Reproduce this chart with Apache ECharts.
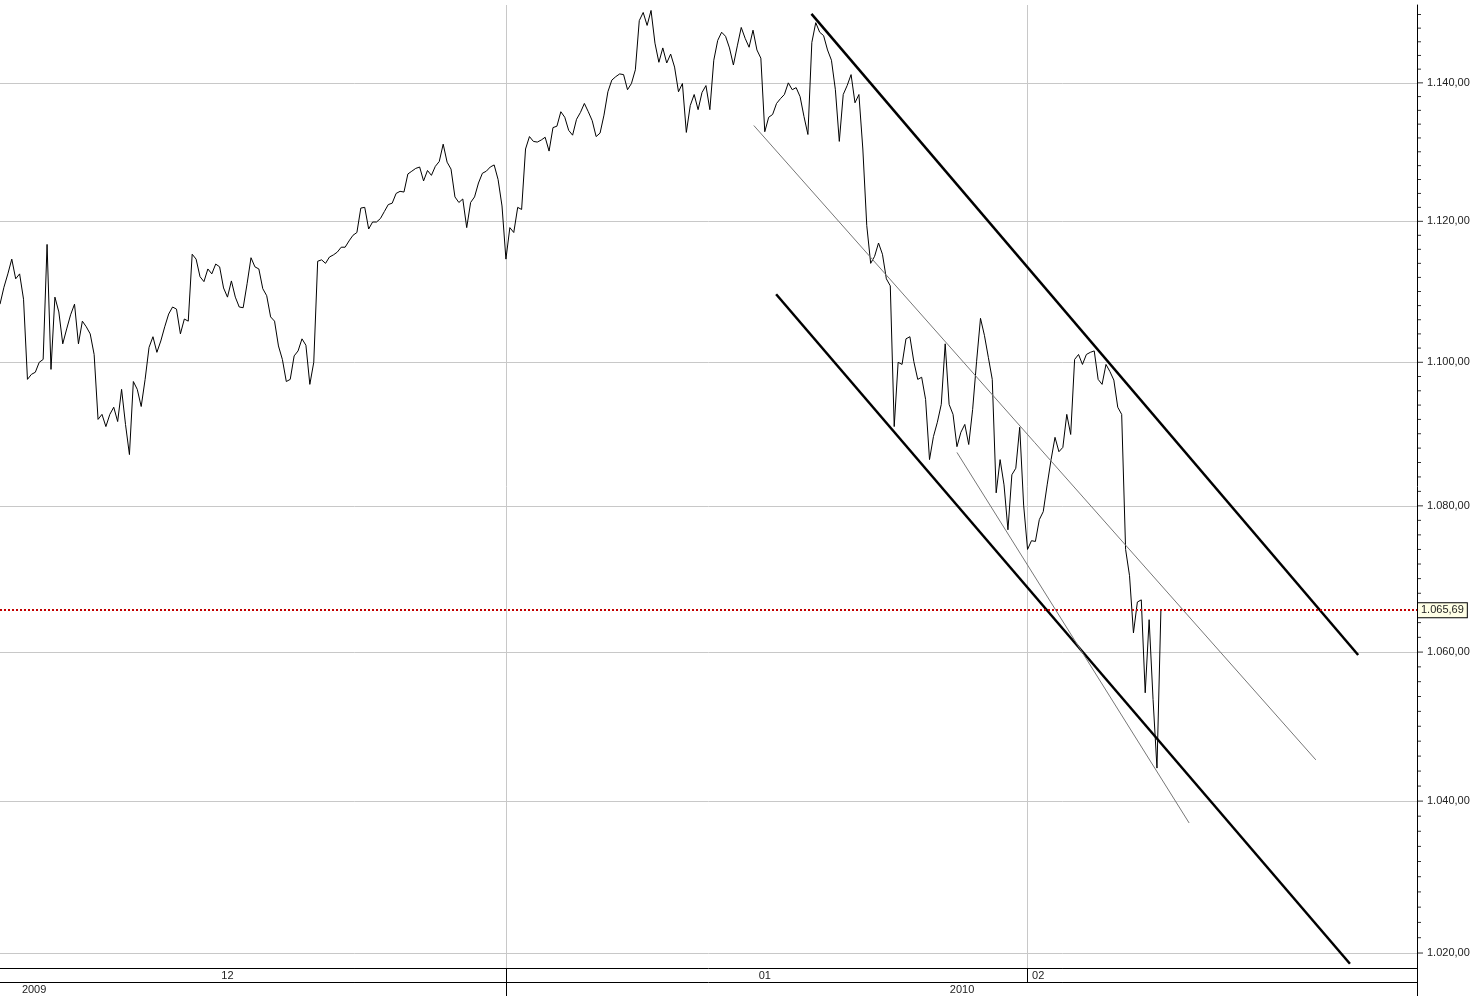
<!DOCTYPE html>
<html><head><meta charset="utf-8">
<script src="https://cdn.jsdelivr.net/npm/echarts@6/dist/echarts.min.js"></script>
<style>html,body{margin:0;padding:0;background:#fff}#c{width:1473px;height:996px}</style>
</head><body><div id="c"></div>
<script>
// x axis unit: hourly bar index counted from 1 Dec 2009 (7 bars per trading day)
const firstBar = 25;
const axisStartBar = 25;
const axisEndBar = 386.3;
const prices = [
1108.2,1110.6,1112.5,1114.6,1111.8,1112.5,1108.9,1097.6,1098.3,1098.6,
1100.0,1100.4,1116.7,1099.0,1109.2,1107.1,1102.6,1104.7,1106.7,1108.2,
1102.6,1105.8,1105.0,1104.0,1101.1,1092.0,1092.7,1091.0,1092.7,1093.7,
1091.7,1096.2,1091.3,1087.1,1097.3,1096.2,1093.8,1097.6,1102.1,1103.6,
1101.4,1103.0,1105.0,1106.8,1107.8,1107.5,1104.0,1106.1,1105.8,1115.3,
1114.6,1112.1,1111.4,1113.2,1112.5,1113.9,1113.5,1110.5,1109.2,1111.5,
1109.2,1107.8,1107.7,1111.1,1114.8,1113.5,1113.2,1110.4,1109.4,1106.4,
1105.8,1102.3,1100.4,1097.3,1097.6,1100.9,1101.6,1103.3,1102.4,1096.9,
1100.0,1114.3,1114.5,1114.0,1114.9,1115.2,1115.6,1116.3,1116.3,1117.2,
1118.0,1118.4,1121.9,1122.0,1118.9,1119.9,1119.9,1120.4,1121.4,1122.4,
1122.6,1124.0,1124.3,1124.2,1126.8,1127.2,1127.6,1127.8,1125.8,1127.3,
1126.6,1127.9,1128.6,1131.1,1128.5,1127.5,1123.5,1122.7,1123.2,1119.1,
1122.7,1123.5,1125.5,1126.9,1127.2,1127.8,1128.1,1126.0,1122.2,1114.6,
1119.1,1118.4,1122.0,1121.7,1130.4,1132.2,1131.5,1131.4,1131.7,1132.1,
1130.1,1133.5,1133.7,1135.8,1135.0,1133.1,1132.4,1134.7,1135.7,1137.0,
1135.8,1134.5,1132.2,1132.7,1135.3,1138.7,1140.4,1140.9,1141.3,1141.2,
1139.0,1139.9,1141.9,1149.1,1150.3,1148.4,1150.6,1145.8,1143.0,1145.1,
1142.9,1144.2,1142.3,1138.7,1139.9,1132.8,1136.7,1138.3,1136.1,1138.6,
1139.6,1136.1,1143.3,1146.2,1147.4,1146.8,1145.1,1142.6,1145.4,1148.1,
1146.5,1145.2,1147.7,1144.8,1143.6,1132.9,1135.0,1135.4,1137.0,1137.7,
1138.3,1140.0,1139.0,1139.3,1138.0,1135.1,1132.5,1145.9,1148.8,1147.4,
1146.9,1144.8,1143.3,1139.0,1131.5,1138.3,1139.6,1141.2,1137.1,1138.3,
1130.4,1119.4,1114.0,1115.0,1116.9,1115.3,1111.8,1110.8,1091.0,1100.0,
1099.7,1103.3,1103.6,1100.1,1097.6,1097.9,1094.8,1086.4,1089.6,1091.6,
1094.1,1102.6,1094.1,1092.7,1088.2,1090.2,1091.3,1088.5,1093.4,1100.1,
1106.2,1103.8,1100.7,1097.6,1081.8,1086.4,1082.9,1076.7,1084.3,1085.2,
1090.9,1080.1,1074.0,1075.2,1075.1,1078.1,1079.2,1082.9,1086.4,1089.5,
1087.5,1088.1,1092.7,1089.9,1100.4,1101.1,1099.7,1101.1,1101.4,1101.6,
1097.6,1096.9,1099.7,1098.7,1097.5,1093.7,1092.7,1074.0,1070.4,1062.6,
1066.8,1067.1,1054.5,1064.4,1053.6,1044.4,1065.69
];
const lastPrice = 1065.69;
const priceTicks = [1020, 1040, 1060, 1080, 1100, 1120, 1140];
const minorTickStep = 2;
const upperChannel = [[231.9, 1150.1], [371.3, 1059.6]];
const lowerChannel = [[222.9, 1109.6], [369.2, 1018.6]];
const midLine = [[217.2, 1133.8], [360.5, 1045.5]];
const steepLine = [[269.0, 1087.4], [328.2, 1037.1]];
const monthStartBars = [154, 287];
const monthLabels = ['12', '01', '02'];
const monthLabelBars = [83, 220, 289.7];
const yearStartBars = [154];
const yearLabels = ['2009', '2010'];
const yearLabelBars = [33.7, 270.3];

const FONT = "'Liberation Sans', Arial, sans-serif";
function fmt(v) {
  const parts = v.toFixed(2).split('.');
  return parts[0].replace(/\B(?=(\d{3})+(?!\d))/g, '.') + ',' + parts[1];
}
function pick(vals, labels, v) {
  let k = 0, best = Infinity;
  vals.forEach((b, i) => { const d = Math.abs(b - v); if (d < best) { best = d; k = i; } });
  return labels[k];
}
const minorTicks = [];
for (let v = priceTicks[0]; v <= 1151; v += minorTickStep) {
  if (priceTicks.indexOf(v) < 0) minorTicks.push([axisEndBar, v]);
}

const gridMarks = priceTicks.map(v => ({
  yAxis: v,
  lineStyle: { color: '#c8c8c8', width: 1, type: 'solid' },
  label: { show: true, position: 'end', distance: 10, formatter: fmt(v), color: '#222', fontSize: 11, fontFamily: FONT }
})).concat(monthStartBars.map(b => ({
  xAxis: b,
  lineStyle: { color: '#c8c8c8', width: 1, type: 'solid' },
  label: { show: false }
})));

const chart = echarts.init(document.getElementById('c'), null, { renderer: 'canvas' });
chart.setOption({
  animation: false,
  backgroundColor: '#fff',
  grid: { left: 0, right: 56, top: 5, bottom: 28, containLabel: false },
  xAxis: [
    {
      type: 'value', min: axisStartBar, max: axisEndBar, position: 'bottom',
      axisLine: { show: true, onZero: false, lineStyle: { color: '#000', width: 1 } },
      axisTick: { show: true, customValues: monthStartBars.concat([axisEndBar]), length: 14, lineStyle: { color: '#000', width: 1 } },
      axisLabel: { customValues: monthLabelBars, formatter: v => pick(monthLabelBars, monthLabels, v), margin: 2, color: '#222', fontSize: 11, fontFamily: FONT },
      splitLine: { show: false }
    },
    {
      type: 'value', min: axisStartBar, max: axisEndBar, position: 'bottom', offset: 14,
      axisLine: { show: true, onZero: false, lineStyle: { color: '#000', width: 1 } },
      axisTick: { show: true, customValues: yearStartBars.concat([axisEndBar]), length: 14, lineStyle: { color: '#000', width: 1 } },
      axisLabel: { customValues: yearLabelBars, formatter: v => pick(yearLabelBars, yearLabels, v), margin: 2, color: '#222', fontSize: 11, fontFamily: FONT },
      splitLine: { show: false }
    }
  ],
  yAxis: {
    type: 'log', logBase: 10, min: 1018.05, max: 1151.4, position: 'right',
    axisLine: { show: true, lineStyle: { color: '#000', width: 1 } },
    axisTick: { show: false }, axisLabel: { show: false }, splitLine: { show: false }
  },
  series: [
    {
      name: 'grid', type: 'line', data: [], silent: true, z: 1,
      markLine: { silent: true, symbol: ['none', 'none'], animation: false, z: 1, data: gridMarks }
    },
    {
      name: 'price', type: 'line', z: 10, showSymbol: false, symbol: 'none', silent: true,
      lineStyle: { color: '#000', width: 1 },
      data: prices.map((p, i) => [firstBar + i, p]),
      markLine: {
        silent: true, symbol: ['none', 'none'], animation: false, z: 12,
        data: [{
          yAxis: lastPrice,
          lineStyle: { color: '#c40000', width: 2, type: [2, 2] },
          label: { show: true, position: 'end', distance: 1, formatter: fmt(lastPrice), color: '#222', fontSize: 11, fontFamily: FONT,
            backgroundColor: '#ffffe6', borderColor: '#000', borderWidth: 1, padding: [2, 3, 1, 3] }
        }]
      }
    },
    { name: 'upper', type: 'line', z: 11, symbol: 'none', silent: true, data: upperChannel, lineStyle: { color: '#000', width: 2.5 } },
    { name: 'lower', type: 'line', z: 11, symbol: 'none', silent: true, data: lowerChannel, lineStyle: { color: '#000', width: 2.5 } },
    { name: 'mid', type: 'line', z: 11, symbol: 'none', silent: true, data: midLine, lineStyle: { color: '#777', width: 1 } },
    { name: 'steep', type: 'line', z: 11, symbol: 'none', silent: true, data: steepLine, lineStyle: { color: '#777', width: 1 } },
    {
      name: 'minorTicks', type: 'scatter', silent: true, clip: false, z: 5,
      symbol: 'rect', symbolSize: [4, 1], symbolOffset: [2, 0], itemStyle: { color: '#000' },
      data: minorTicks
    },
    {
      name: 'majorTicks', type: 'scatter', silent: true, clip: false, z: 5,
      symbol: 'rect', symbolSize: [6, 1], symbolOffset: [3, 0], itemStyle: { color: '#000' },
      data: priceTicks.map(v => [axisEndBar, v])
    }
  ]
});
</script>
</body></html>
